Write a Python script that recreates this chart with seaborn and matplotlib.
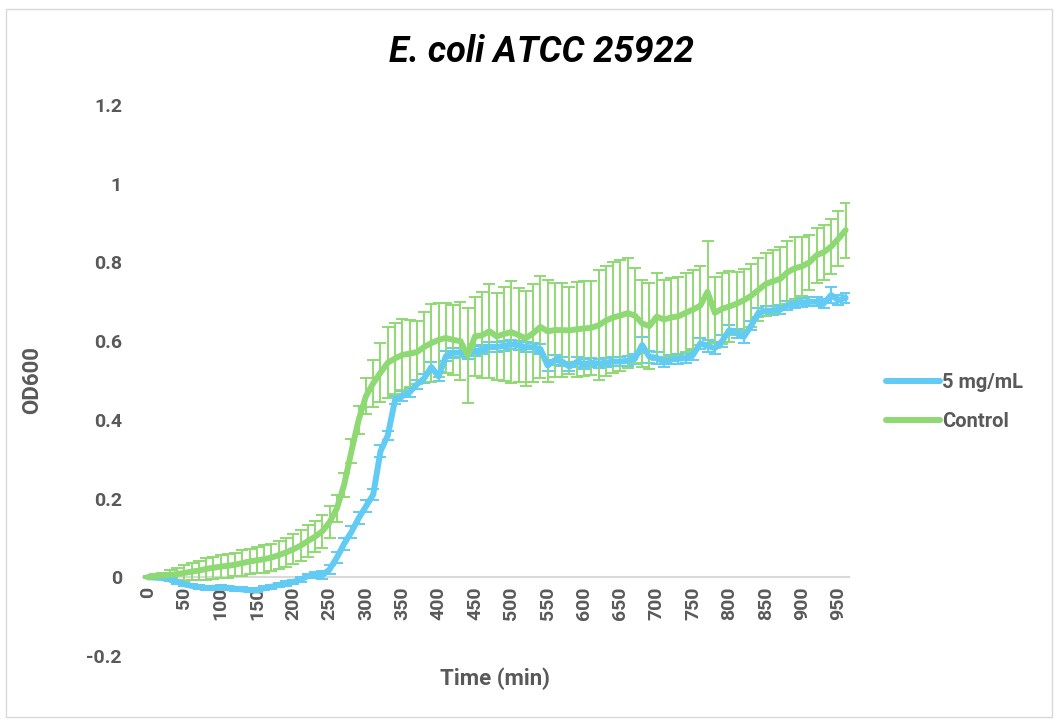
import numpy as np
import pandas as pd
import matplotlib
matplotlib.use("Agg")
import matplotlib.pyplot as plt
import seaborn as sns

# ----------------------------
# Data (OD600 readings every 10 min)
# ----------------------------
time_min = list(range(0, 970, 10))

control = [
    0.000, 0.002, 0.004, 0.006, 0.008, 0.011, 0.014, 0.017, 0.021, 0.024,
    0.027, 0.029, 0.032, 0.036, 0.040, 0.043, 0.046, 0.050, 0.056, 0.063,
    0.071, 0.080, 0.092, 0.103, 0.117, 0.140, 0.175, 0.235, 0.320, 0.400,
    0.460, 0.493, 0.520, 0.545, 0.556, 0.565, 0.568, 0.572, 0.585, 0.595,
    0.603, 0.608, 0.603, 0.600, 0.563, 0.612, 0.615, 0.625, 0.612, 0.618,
    0.623, 0.615, 0.607, 0.620, 0.636, 0.625, 0.628, 0.628, 0.627, 0.630,
    0.632, 0.634, 0.640, 0.652, 0.660, 0.665, 0.671, 0.665, 0.645, 0.638,
    0.662, 0.655, 0.660, 0.663, 0.672, 0.680, 0.690, 0.725, 0.672, 0.682,
    0.688, 0.695, 0.704, 0.715, 0.730, 0.745, 0.752, 0.758, 0.775, 0.785,
    0.790, 0.800, 0.818, 0.826, 0.840, 0.860, 0.882,
]
control_sd = [
    0.003, 0.005, 0.008, 0.012, 0.016, 0.020, 0.022, 0.025, 0.027, 0.028,
    0.030, 0.030, 0.030, 0.032, 0.033, 0.033, 0.035, 0.035, 0.036, 0.037,
    0.038, 0.040, 0.040, 0.040, 0.042, 0.040, 0.035, 0.030, 0.030, 0.035,
    0.045, 0.060, 0.075, 0.090, 0.090, 0.090, 0.085, 0.080, 0.090, 0.100,
    0.095, 0.090, 0.090, 0.100, 0.120, 0.100, 0.110, 0.120, 0.110, 0.120,
    0.130, 0.120, 0.120, 0.125, 0.130, 0.130, 0.120, 0.120, 0.110, 0.120,
    0.120, 0.120, 0.140, 0.140, 0.140, 0.140, 0.140, 0.120, 0.110, 0.110,
    0.110, 0.100, 0.100, 0.100, 0.100, 0.100, 0.100, 0.130, 0.090, 0.090,
    0.090, 0.080, 0.080, 0.080, 0.080, 0.080, 0.080, 0.080, 0.080, 0.080,
    0.075, 0.070, 0.070, 0.070, 0.070, 0.070, 0.070,
]

treated = [
    0.000, -0.001, -0.002, -0.006, -0.012, -0.018, -0.022, -0.025, -0.027, -0.027,
    -0.026, -0.027, -0.029, -0.031, -0.033, -0.033, -0.028, -0.024, -0.020, -0.016,
    -0.012, -0.006, 0.003, 0.005, 0.005, 0.020, 0.050, 0.085, 0.115, 0.150,
    0.180, 0.210, 0.320, 0.360, 0.450, 0.460, 0.470, 0.490, 0.505, 0.534,
    0.510, 0.562, 0.570, 0.571, 0.566, 0.575, 0.578, 0.585, 0.585, 0.588,
    0.592, 0.589, 0.585, 0.584, 0.580, 0.538, 0.552, 0.548, 0.535, 0.547,
    0.542, 0.545, 0.543, 0.545, 0.548, 0.548, 0.550, 0.555, 0.590, 0.560,
    0.558, 0.547, 0.553, 0.555, 0.557, 0.565, 0.594, 0.588, 0.582, 0.600,
    0.628, 0.620, 0.611, 0.639, 0.672, 0.676, 0.678, 0.680, 0.690, 0.696,
    0.698, 0.700, 0.700, 0.696, 0.717, 0.704, 0.710,
]
treated_sd = [
    0.002, 0.002, 0.003, 0.003, 0.004, 0.004, 0.004, 0.005, 0.005, 0.005,
    0.005, 0.005, 0.005, 0.005, 0.005, 0.005, 0.005, 0.005, 0.005, 0.006,
    0.006, 0.006, 0.006, 0.008, 0.010, 0.012, 0.015, 0.015, 0.015, 0.015,
    0.015, 0.015, 0.015, 0.012, 0.010, 0.012, 0.012, 0.012, 0.012, 0.012,
    0.012, 0.012, 0.012, 0.012, 0.012, 0.012, 0.012, 0.012, 0.012, 0.012,
    0.012, 0.012, 0.012, 0.012, 0.012, 0.015, 0.012, 0.012, 0.012, 0.012,
    0.012, 0.012, 0.012, 0.012, 0.012, 0.012, 0.012, 0.012, 0.020, 0.015,
    0.015, 0.012, 0.012, 0.012, 0.012, 0.012, 0.015, 0.015, 0.015, 0.015,
    0.012, 0.012, 0.015, 0.012, 0.012, 0.012, 0.012, 0.012, 0.012, 0.012,
    0.012, 0.012, 0.012, 0.012, 0.020, 0.012, 0.012,
]

series_names = ["5 mg/mL", "Control"]
colors = {"5 mg/mL": "#61CBF3", "Control": "#8ED973"}

df = pd.DataFrame({
    "Time (min)": time_min * 2,
    "OD600": treated + control,
    "sd": treated_sd + control_sd,
    "series": ["5 mg/mL"] * len(time_min) + ["Control"] * len(time_min),
})

# ----------------------------
# Plot
# ----------------------------
sns.set_style("white")
plt.rcParams["font.family"] = ["Roboto", "DejaVu Sans"]
grey = "#595959"

fig = plt.figure(figsize=(10.58, 7.24), dpi=100)
ax = fig.add_axes([0.135, 0.094, 0.667, 0.761])

for name in series_names:
    sub = df[df["series"] == name]
    ax.errorbar(sub["Time (min)"], sub["OD600"], yerr=sub["sd"], fmt="none",
                ecolor=colors[name], elinewidth=1.4, capsize=4.5, capthick=1.4,
                zorder=2)

sns.lineplot(data=df, x="Time (min)", y="OD600", hue="series",
             hue_order=series_names, palette=colors, linewidth=4.3,
             errorbar=None, ax=ax, zorder=3, legend=False)
for ln in ax.get_lines():
    ln.set_solid_capstyle("round")
    ln.set_solid_joinstyle("round")

# spine at y=0 first (moving it resets tick styling)
for s in ["top", "right", "left"]:
    ax.spines[s].set_visible(False)
ax.spines["bottom"].set_position(("data", 0))
ax.spines["bottom"].set_color("#D9D9D9")
ax.spines["bottom"].set_linewidth(1.5)
ax.spines["bottom"].set_zorder(1)

ax.set_xlim(-7, 964)
ax.set_ylim(-0.2, 1.2)
ax.set_xticks(range(0, 1000, 50))
ax.set_xticklabels([str(t) for t in range(0, 1000, 50)], rotation=90,
                   fontsize=14, fontweight="bold", color=grey)
yt = [-0.2, 0, 0.2, 0.4, 0.6, 0.8, 1, 1.2]
ax.set_yticks(yt)
ax.set_yticklabels(["-0.2", "0", "0.2", "0.4", "0.6", "0.8", "1", "1.2"],
                   fontsize=14, fontweight="bold", color=grey)
ax.tick_params(axis="x", length=0, pad=7)
ax.tick_params(axis="y", length=0, pad=15)

ax.set_xlabel("")
ax.set_ylabel("")
fig.text(0.468, 0.063, "Time (min)", ha="center", va="center",
         fontsize=16, fontweight="bold", color=grey)
fig.text(0.03, 0.475, "OD600", ha="center", va="center", rotation=90,
         fontsize=16, fontweight="bold", color=grey)
fig.text(0.512, 0.928, "E. coli ATCC 25922", ha="center", va="center",
         fontsize=26, fontweight="bold", fontstyle="italic", color="black")

# legend
handles = [plt.Line2D([], [], color=colors[n], linewidth=4.3,
                      solid_capstyle="round") for n in series_names]
fig.legend(handles, series_names, loc="center left",
           bbox_to_anchor=(0.82, 0.445), frameon=False,
           prop={"size": 14.5, "weight": "bold"}, labelcolor=grey,
           handlelength=2.7, handletextpad=0.1, labelspacing=1.0)

# chart border
fig.patches.append(plt.Rectangle((0.006, 0.01), 0.988, 0.978,
                                 transform=fig.transFigure, fill=False,
                                 edgecolor="#D9D9D9", linewidth=1.0))

plt.savefig("out.png", dpi=100)
plt.close()
